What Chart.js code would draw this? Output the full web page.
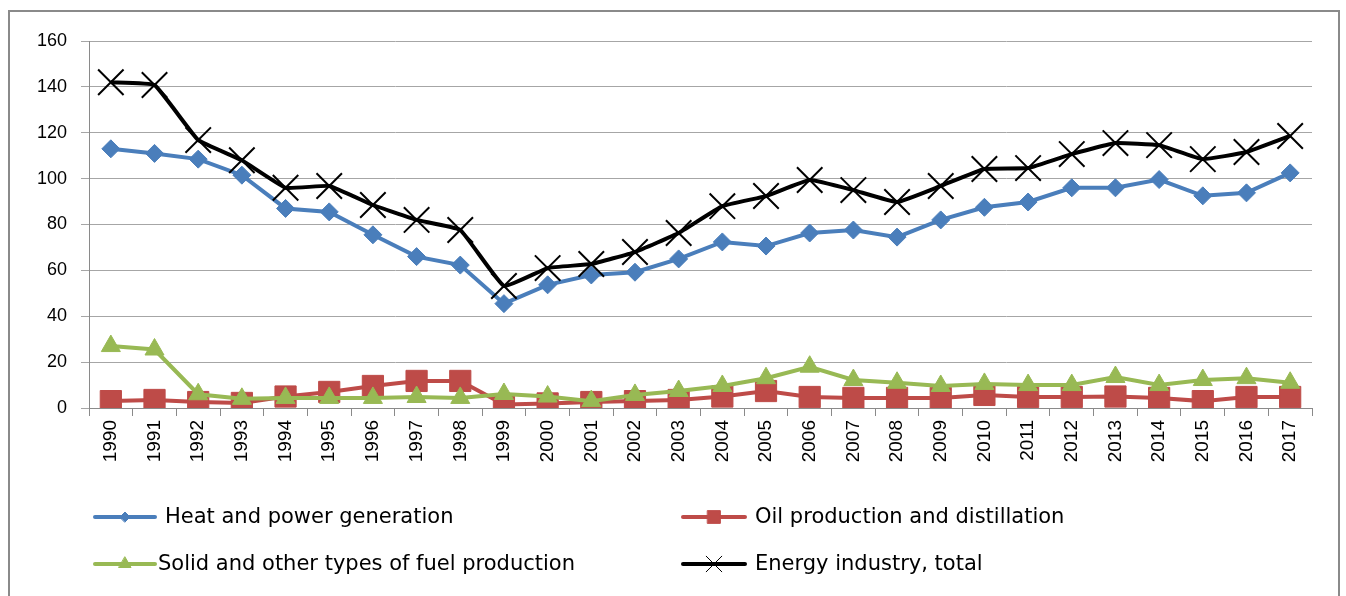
<!DOCTYPE html>
<html>
<head>
<meta charset="utf-8">
<script src="https://cdn.jsdelivr.net/npm/chart.js@4/dist/chart.umd.min.js"></script>
<style>
    html, body { margin: 0; padding: 0; background: #fff; }
    #wrap { position: relative; width: 1346px; height: 596px; overflow: hidden; }
    #frame { position: absolute; left: 8px; top: 10px; width: 1328px; height: 600px; border: 2px solid #8a8a8a; }
    #myChart { position: absolute; left: 0; top: 0; }
</style>
</head>
<body>
<div id="wrap">
    <div id="frame"></div>
    <canvas id="myChart" width="1346" height="596"></canvas>
</div>
<script>
// values
const years = ['1990', '1991', '1992', '1993', '1994', '1995', '1996', '1997', '1998', '1999',
    '2000', '2001', '2002', '2003', '2004', '2005', '2006', '2007', '2008', '2009',
    '2010', '2011', '2012', '2013', '2014', '2015', '2016', '2017'];

const heatPower = [113, 111, 108.5, 101.5, 87, 85.5, 75.5, 66, 62.3, 45.5,
    53.7, 58, 59.2, 65, 72.4, 70.6, 76.3, 77.6, 74.5, 82,
    87.5, 89.8, 96, 96, 99.6, 92.5, 93.8, 102.5];

const oilProduction = [3, 3.5, 2.6, 2.2, 5, 7, 9.6, 11.8, 11.8, 1.5,
    2, 2.6, 3, 3.5, 5, 7.4, 4.8, 4.4, 4.4, 4.4,
    5.7, 4.8, 4.8, 5, 4.4, 3, 4.8, 4.8];

const solidFuel = [27, 25.5, 6, 4, 4.4, 4.4, 4.4, 4.8, 4.4, 6.1,
    5, 3, 5.7, 7.4, 9.6, 13, 18, 12.2, 11, 9.6,
    10.5, 10, 10, 13.5, 10, 12.2, 13, 11];

const energyTotal = [142, 140.8, 116.8, 108, 96, 96.8, 88.5, 82, 77.6, 53.2,
    61, 62.8, 68, 76.3, 88, 92.4, 99.4, 95, 89.8, 96.8,
    104.2, 104.6, 110.7, 115.5, 114.6, 108.5, 111.6, 118.6];

const yTicks = [0, 20, 40, 60, 80, 100, 120, 140, 160];

const ctx = document.getElementById('myChart');

// legend in two columns, like the original
const legendSpots = [
    { line: [95, 155], y: 517, text: 165 },
    { line: [683, 745], y: 517, text: 755 },
    { line: [95, 155], y: 564, text: 158 },
    { line: [683, 745], y: 564, text: 755 }
];

const twoColumnLegend = {
    id: 'twoColumnLegend',
    afterDraw(chart) {
        const c = chart.ctx;
        chart.data.datasets.forEach((ds, i) => {
            const spot = legendSpots[i];
            c.save();
            c.strokeStyle = ds.borderColor;
            c.lineWidth = 4;
            c.lineCap = 'round';
            c.beginPath();
            c.moveTo(spot.line[0], spot.y);
            c.lineTo(spot.line[1], spot.y);
            c.stroke();
            c.fillStyle = ds.pointBackgroundColor;
            c.strokeStyle = ds.pointBorderColor;
            c.lineWidth = ds.legendMarker.width;
            Chart.helpers.drawPoint(c, {
                pointStyle: ds.pointStyle,
                radius: ds.legendMarker.radius,
                rotation: 0,
                borderWidth: ds.legendMarker.width
            }, (spot.line[0] + spot.line[1]) / 2, spot.y);
            c.fillStyle = '#000';
            c.font = '21px "DejaVu Sans"';
            c.textBaseline = 'middle';
            c.textAlign = 'left';
            c.fillText(ds.label, spot.text, spot.y + 1);
            c.restore();
        });
    }
};

let chart = new Chart(ctx, {
    type: 'line',
    data: {
        labels: years,
        datasets: [{
            label: 'Heat and power generation',
            data: heatPower,
            borderColor: '#4a7ebb',
            backgroundColor: '#4a7ebb',
            pointBackgroundColor: '#4a7ebb',
            pointBorderColor: '#4a7ebb',
            pointStyle: 'rectRot',
            pointRadius: 9,
            borderWidth: 4,
            pointBorderWidth: 1,
            legendMarker: { radius: 5, width: 1 },
            order: 2
        }, {
            label: 'Oil production and distillation',
            data: oilProduction,
            borderColor: '#be4b48',
            backgroundColor: '#be4b48',
            pointBackgroundColor: '#be4b48',
            pointBorderColor: '#be4b48',
            pointStyle: 'rect',
            pointRadius: 15,
            borderWidth: 4,
            pointBorderWidth: 1,
            legendMarker: { radius: 9, width: 1 },
            order: 3
        }, {
            label: 'Solid and other types of fuel production',
            data: solidFuel,
            borderColor: '#98b954',
            backgroundColor: '#98b954',
            pointBackgroundColor: '#98b954',
            pointBorderColor: '#98b954',
            pointStyle: 'triangle',
            pointRadius: 11,
            borderWidth: 4,
            pointBorderWidth: 1,
            legendMarker: { radius: 7, width: 1 },
            order: 1
        }, {
            label: 'Energy industry, total',
            data: energyTotal,
            borderColor: '#000000',
            backgroundColor: '#000000',
            pointBackgroundColor: '#000000',
            pointBorderColor: '#000000',
            pointStyle: 'crossRot',
            pointRadius: 18,
            borderWidth: 4,
            pointBorderWidth: 2,
            tension: 0.1,
            legendMarker: { radius: 11, width: 1 },
            order: 0
        }]
    },
    options: {
        responsive: false,
        animation: false,
        layout: {
            padding: { left: 0, top: 41, right: 34, bottom: 118 }
        },
        plugins: {
            legend: { display: false },
            tooltip: { enabled: false }
        },
        scales: {
            x: {
                offset: true,
                afterFit(scale) { scale.height = 70; },
                grid: {
                    offset: true,
                    drawOnChartArea: false,
                    tickLength: 8,
                    color: '#8a8a8a'
                },
                border: { color: '#8a8a8a', width: 1 },
                ticks: {
                    minRotation: 90,
                    maxRotation: 90,
                    autoSkip: false,
                    padding: 4,
                    color: '#000',
                    font: { family: '"Liberation Sans"', size: 19 }
                }
            },
            y: {
                min: 0,
                max: 160,
                afterFit(scale) { scale.width = 89; },
                afterBuildTicks(scale) {
                    scale.ticks = yTicks.map(v => ({ value: v }));
                },
                grid: {
                    tickLength: 8,
                    color: '#a6a6a6'
                },
                border: { color: '#8a8a8a', width: 1 },
                ticks: {
                    padding: 14,
                    color: '#000',
                    font: { family: '"Liberation Sans"', size: 18 }
                }
            }
        }
    },
    plugins: [twoColumnLegend]
});
</script>
</body>
</html>
